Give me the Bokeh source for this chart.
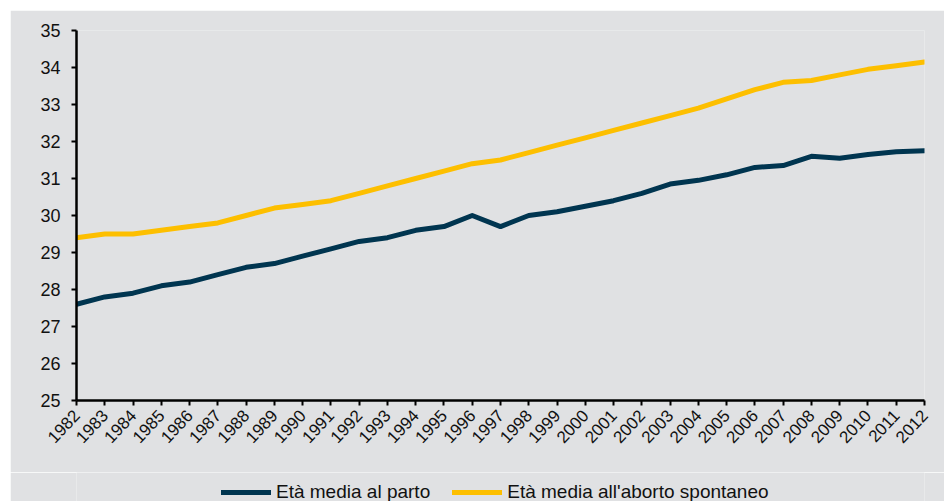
import math
from bokeh.plotting import figure
from bokeh.layouts import column
from bokeh.models import Legend, LegendItem, Range1d, FixedTicker
from bokeh.embed import file_html
from bokeh.resources import INLINE

years = list(range(1982, 2013))
eta_parto = [27.6, 27.8, 27.9, 28.1, 28.2, 28.4, 28.6, 28.7, 28.9, 29.1,
             29.3, 29.4, 29.6, 29.7, 30.0, 29.7, 30.0, 30.1, 30.25, 30.4,
             30.6, 30.85, 30.95, 31.1, 31.3, 31.35, 31.6, 31.55, 31.65, 31.72, 31.75]
eta_aborto = [29.4, 29.5, 29.5, 29.6, 29.7, 29.8, 30.0, 30.2, 30.3, 30.4,
              30.6, 30.8, 31.0, 31.2, 31.4, 31.5, 31.7, 31.9, 32.1, 32.3,
              32.5, 32.7, 32.9, 33.15, 33.4, 33.6, 33.65, 33.8, 33.95, 34.05, 34.15]
y_ticks = list(range(25, 36))
series_names = ["Età media al parto", "Età media all'aborto spontaneo"]
colors = ["#003550", "#fdbf00"]

BG = "#e0e1e3"
FONT = "Liberation Sans"

p = figure(width=934, height=462, output_backend="svg", toolbar_location=None,
           x_range=Range1d(1982, 2012), y_range=Range1d(25, 35),
           min_border_left=66, min_border_right=20, min_border_top=20, min_border_bottom=72)
p.background_fill_color = BG
p.border_fill_color = BG
p.outline_line_color = None
p.grid.visible = False

p.line(years, eta_parto, line_color=colors[0], line_width=5, line_join="round", line_cap="round")
p.line(years, eta_aborto, line_color=colors[1], line_width=5, line_join="round", line_cap="round")

for ax in (p.xaxis[0], p.yaxis[0]):
    ax.axis_line_color = "black"
    ax.axis_line_width = 2.5
    ax.major_tick_line_color = "black"
    ax.major_tick_line_width = 2
    ax.major_tick_in = 0
    ax.major_tick_out = 5
    ax.minor_tick_line_color = None
    ax.major_label_text_font = FONT
    ax.major_label_text_color = "#111111"

p.yaxis[0].major_label_text_font_size = "18px"
p.xaxis[0].major_label_text_font_size = "17px"
p.xaxis[0].ticker = FixedTicker(ticks=years)
p.xaxis[0].major_label_orientation = math.radians(47)
p.xaxis[0].major_label_standoff = 7
p.yaxis[0].ticker = FixedTicker(ticks=y_ticks)
p.yaxis[0].major_label_standoff = 11

# legend strip (frames of a column are aligned, so its frame spans x 76..924)
p2 = figure(width=934, height=29, output_backend="svg", toolbar_location=None,
            x_range=Range1d(0, 1), y_range=Range1d(0, 1),
            min_border_left=0, min_border_right=0, min_border_top=0, min_border_bottom=0)
p2.background_fill_color = BG
p2.border_fill_color = BG
p2.outline_line_color = None
p2.axis.visible = False
p2.grid.visible = False
# off-range keys: only the legend shows them
l1 = p2.line([-10, -9], [-10, -9], line_color=colors[0], line_width=5, line_cap="round")
l2 = p2.line([-10, -9], [-10, -9], line_color=colors[1], line_width=5, line_cap="round")

legend = Legend(items=[LegendItem(label=series_names[0], renderers=[l1]),
                       LegendItem(label=series_names[1], renderers=[l2])],
                orientation="horizontal", location=(145, -2),
                background_fill_alpha=0, border_line_color=None,
                glyph_width=50, glyph_height=20, label_standoff=5, spacing=22,
                padding=0, margin=0,
                label_text_font=FONT, label_text_font_size="19px", label_text_color="#111111")
p2.add_layout(legend, "center")

layout = column(p, p2, margin=(10, 0, 0, 10), spacing=0)

open("out.html", "w").write(file_html(layout, INLINE))
